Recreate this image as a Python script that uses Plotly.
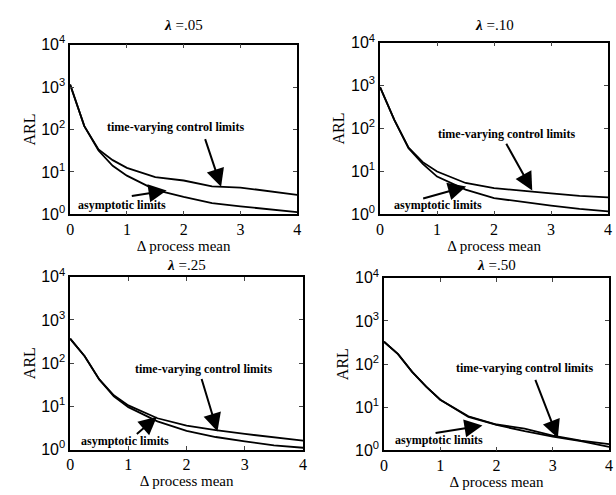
import plotly.graph_objects as go

x_vals = [0, 0.25, 0.5, 0.75, 1, 1.5, 2, 2.5, 3, 3.5, 4]

lambdas = ["=.05", "=.10", "=.25", "=.50"]

tv_05 = [1150, 120, 34, 19, 12.5, 7.6, 6.3, 4.6, 4.3, 3.6, 2.9]
as_05 = [1150, 120, 32, 14, 8.2, 3.8, 2.6, 1.85, 1.55, 1.32, 1.13]

tv_10 = [920, 160, 36, 16.5, 10, 5.4, 4.1, 3.5, 3.1, 2.7, 2.5]
as_10 = [920, 160, 35, 15, 7.6, 3.8, 2.4, 1.95, 1.6, 1.35, 1.18]

tv_25 = [370, 145, 42, 18, 10.5, 5.3, 3.6, 2.8, 2.3, 1.95, 1.6]
as_25 = [370, 145, 42, 17, 9.6, 4.5, 2.7, 1.95, 1.55, 1.25, 1.1]

tv_50 = [330, 170, 66, 30, 15, 6.2, 4.0, 3.2, 2.2, 1.7, 1.4]
as_50 = [330, 170, 66, 30, 15, 6.0, 3.9, 2.8, 2.1, 1.65, 1.22]

y_tickvals = [1, 10, 100, 1000, 10000]
y_ticktext = ["10<sup>0</sup>", "10<sup>1</sup>", "10<sup>2</sup>", "10<sup>3</sup>", "10<sup>4</sup>"]
x_tickvals = [0, 1, 2, 3, 4]

label_tv = "time-varying control limits"
label_as = "asymptotic limits"

# annotation placement per panel: (text_x, text_y_log, tail_x, tail_y_log, tip_x, tip_y_log)
tv_ann = [
    (1.86, 2.06, 2.37, 1.81, 2.66, 0.65),
    (2.22, 1.88, 2.20, 1.68, 2.67, 0.56),
    (2.29, 1.87, 2.25, 1.67, 2.53, 0.42),
    (2.49, 1.91, 2.68, 1.67, 3.09, 0.29),
]
as_ann = [
    (0.92, 0.23, 1.06, 0.43, 1.70, 0.565),
    (1.02, 0.22, 0.73, 0.36, 1.51, 0.65),
    (0.95, 0.20, 1.12, 0.33, 1.49, 0.76),
    (0.98, 0.24, 0.89, 0.40, 1.75, 0.58),
]

W, H = 616, 495
boxes = [  # (x0, x1, ytop, ybottom) in pixels
    (67, 297, 35, 212),
    (381, 612, 33, 212),
    (67, 303, 277, 457),
    (385, 613, 278, 458),
]
title_y = [15, 15, 265, 265]

series = [(tv_05, as_05), (tv_10, as_10), (tv_25, as_25), (tv_50, as_50)]

SERIF = "Liberation Serif, Times New Roman, serif"
SANS = "Liberation Sans, Arial, sans-serif"
fig = go.Figure()
layout = dict(
    width=W, height=H, margin=dict(l=0, r=0, t=0, b=0),
    paper_bgcolor="white", plot_bgcolor="white", showlegend=False,
    font=dict(family=SERIF, color="black", size=14),
)
annotations = []
for i, (tv, asy) in enumerate(series):
    n = "" if i == 0 else str(i + 1)
    xa, ya = "x" + n, "y" + n
    fig.add_trace(go.Scatter(x=x_vals, y=tv, mode="lines", line=dict(color="black", width=1.8),
                             xaxis=xa, yaxis=ya))
    fig.add_trace(go.Scatter(x=x_vals, y=asy, mode="lines", line=dict(color="black", width=1.8),
                             xaxis=xa, yaxis=ya))
    x0, x1, yt, yb = boxes[i]
    layout["xaxis" + n] = dict(
        domain=[x0 / W, x1 / W], anchor=ya, range=[0, 4], tickvals=x_tickvals,
        ticks="inside", ticklen=4, showline=True, linecolor="black", linewidth=1.5,
        mirror="allticks", showgrid=False, zeroline=False,
        tickfont=dict(family=SERIF, size=16),
        title=dict(text="Δ process mean", standoff=2, font=dict(family=SERIF, size=15)),
    )
    layout["yaxis" + n] = dict(
        domain=[1 - yb / H, 1 - yt / H], anchor=xa, type="log", range=[0, 4],
        tickvals=y_tickvals, ticktext=y_ticktext,
        ticks="inside", ticklen=4, showline=True, linecolor="black", linewidth=1.5,
        mirror="allticks", showgrid=False, zeroline=False,
        tickfont=dict(family=SANS, size=16),
        title=dict(text="ARL", standoff=2, font=dict(family=SERIF, size=16)),
    )
    annotations.append(dict(
        xref="paper", yref="paper", x=(x0 + x1) / 2 / W, y=1 - title_y[i] / H,
        text="<b><i>λ</i></b> " + lambdas[i], showarrow=False,
        font=dict(family=SERIF, size=15), xanchor="center", yanchor="middle",
    ))
    for (label, a) in ((label_tv, tv_ann[i]), (label_as, as_ann[i])):
        tx, ty, ax, ay, px, py = a
        annotations.append(dict(
            xref=xa, yref=ya, x=tx, y=ty, text="<b>" + label + "</b>", showarrow=False,
            font=dict(family=SERIF, size=12), xanchor="center", yanchor="middle",
        ))
        annotations.append(dict(
            xref=xa, yref=ya, x=px, y=py, axref=xa, ayref=ya, ax=ax, ay=ay,
            text="", showarrow=True, arrowhead=2, arrowwidth=2, arrowsize=1.8,
            arrowcolor="black",
        ))
layout["annotations"] = annotations
fig.update_layout(**layout)
fig.write_html("out.html")
